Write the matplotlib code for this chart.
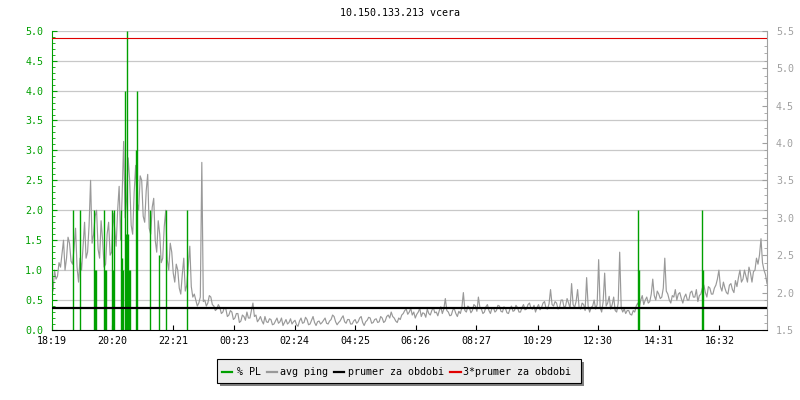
import numpy as np
import matplotlib
matplotlib.use("Agg")
import matplotlib.pyplot as plt
from matplotlib.lines import Line2D
from matplotlib.patches import Rectangle
from matplotlib.ticker import MultipleLocator, FormatStrFormatter

plt.rcParams['font.family'] = ['DejaVu Sans Mono']
plt.rcParams['font.size'] = 7.2

# ---------------- data ----------------
title = "10.150.133.213 vcera"
tick_minutes = [0, 121, 242, 364, 485, 606, 727, 848, 970, 1091, 1212, 1333]
tick_labels = ["18:19", "20:20", "22:21", "00:23", "02:24", "04:25",
               "06:26", "08:27", "10:29", "12:30", "14:31", "16:32"]
x_end = 1428          # minutes shown after 18:19
sample_step = 3       # minutes between ping samples

# average ping [ms] (right axis), one value every 3 minutes from 18:19
ping_ms = [
    2.14, 2.02, 2.30, 2.18, 2.22, 2.40, 2.34, 2.52, 2.70, 2.30, 2.46, 2.74, 2.66, 2.42, 2.38, 2.60, 2.86, 2.34, 2.14, 2.46,
    2.30, 2.62, 2.94, 2.46, 2.54, 2.90, 3.50, 2.66, 2.78, 3.02, 3.10, 2.58, 2.46, 2.96, 2.70, 2.34, 2.38, 2.78, 2.94, 2.50,
    2.54, 3.06, 2.86, 2.62, 3.10, 3.42, 2.70, 3.30, 4.02, 3.00, 3.26, 3.80, 3.50, 2.90, 2.78, 3.34, 3.70, 3.20, 3.10, 3.56,
    3.50, 3.02, 2.94, 3.36, 3.58, 2.86, 2.78, 3.14, 3.26, 2.70, 2.54, 2.96, 2.78, 2.40, 2.46, 2.88, 3.10, 2.44, 2.30, 2.66,
    2.54, 2.26, 2.14, 2.38, 2.30, 2.06, 1.98, 2.24, 2.46, 2.02, 2.10, 2.36, 2.62, 2.08, 1.94, 1.98, 1.90, 1.82, 1.86, 1.94,
    3.74, 1.88, 1.90, 1.82, 1.86, 1.96, 1.94, 1.84, 1.82, 1.76, 1.78, 1.84, 1.80, 1.72, 1.74, 1.80, 1.78, 1.68, 1.70, 1.76,
    1.74, 1.64, 1.66, 1.72, 1.72, 1.60, 1.62, 1.70, 1.68, 1.63, 1.74, 1.66, 1.66, 1.76, 1.86, 1.68, 1.70, 1.61, 1.64, 1.68,
    1.62, 1.58, 1.68, 1.61, 1.60, 1.65, 1.64, 1.57, 1.58, 1.62, 1.66, 1.59, 1.61, 1.66, 1.56, 1.60, 1.64, 1.58, 1.60, 1.65,
    1.58, 1.61, 1.63, 1.57, 1.55, 1.62, 1.66, 1.59, 1.60, 1.67, 1.64, 1.57, 1.58, 1.63, 1.68, 1.60, 1.56, 1.61, 1.62, 1.58,
    1.60, 1.63, 1.66, 1.59, 1.58, 1.62, 1.64, 1.70, 1.68, 1.61, 1.57, 1.60, 1.62, 1.66, 1.69, 1.61, 1.59, 1.64, 1.64, 1.58,
    1.58, 1.62, 1.64, 1.59, 1.61, 1.66, 1.68, 1.60, 1.56, 1.61, 1.63, 1.67, 1.66, 1.59, 1.60, 1.64, 1.65, 1.60, 1.61, 1.68,
    1.66, 1.60, 1.62, 1.68, 1.70, 1.66, 1.74, 1.68, 1.66, 1.62, 1.60, 1.66, 1.64, 1.70, 1.72, 1.76, 1.78, 1.71, 1.74, 1.79,
    1.70, 1.74, 1.66, 1.71, 1.74, 1.79, 1.68, 1.73, 1.72, 1.67, 1.78, 1.72, 1.70, 1.76, 1.80, 1.73, 1.74, 1.69, 1.76, 1.81,
    1.72, 1.78, 1.92, 1.76, 1.74, 1.69, 1.70, 1.77, 1.78, 1.72, 1.68, 1.75, 1.72, 1.80, 2.00, 1.76, 1.74, 1.82, 1.80, 1.73,
    1.76, 1.84, 1.82, 1.75, 1.94, 1.80, 1.78, 1.72, 1.74, 1.81, 1.84, 1.76, 1.72, 1.79, 1.80, 1.74, 1.76, 1.83, 1.82, 1.75,
    1.74, 1.81, 1.79, 1.73, 1.72, 1.78, 1.82, 1.75, 1.76, 1.83, 1.80, 1.74, 1.74, 1.80, 1.84, 1.77, 1.78, 1.84, 1.86, 1.79,
    1.78, 1.83, 1.74, 1.80, 1.84, 1.77, 1.80, 1.86, 1.88, 1.79, 1.78, 1.85, 2.04, 1.84, 1.82, 1.88, 1.86, 1.78, 1.80, 1.90,
    1.90, 1.80, 1.82, 1.92, 1.86, 1.79, 2.12, 1.84, 1.80, 1.88, 2.04, 1.80, 1.78, 1.86, 1.84, 1.76, 2.20, 1.82, 1.74, 1.80,
    1.82, 1.90, 1.78, 1.84, 2.44, 1.80, 1.74, 1.88, 2.26, 1.82, 1.86, 1.95, 1.78, 1.84, 1.94, 1.76, 1.74, 1.86, 2.54, 1.80,
    1.74, 1.78, 1.72, 1.76, 1.76, 1.71, 1.70, 1.76, 1.74, 1.82, 1.86, 1.80, 1.90, 1.96, 1.84, 1.90, 1.94, 1.86, 1.88, 1.98,
    2.18, 1.96, 1.90, 2.02, 1.98, 1.92, 1.94, 2.06, 2.46, 2.02, 1.98, 1.90, 1.86, 1.96, 1.94, 2.04, 1.90, 1.98, 2.00, 1.92,
    1.86, 1.94, 1.98, 1.90, 1.90, 2.00, 2.02, 1.94, 1.94, 2.04, 1.88, 1.96, 1.98, 2.06, 2.10, 2.00, 1.94, 2.08, 2.06, 1.98,
    1.98, 2.06, 2.10, 2.18, 2.30, 2.08, 2.02, 2.14, 2.06, 2.00, 1.98, 2.10, 2.12, 2.04, 2.00, 2.16, 2.08, 2.20, 2.30, 2.14,
    2.18, 2.30, 2.22, 2.14, 2.34, 2.26, 2.14, 2.28, 2.30, 2.46, 2.38, 2.50, 2.72, 2.40, 2.30, 2.24, 2.12,
]

# packet loss [%] (left axis)
pl_minutes = [43, 57, 85, 87, 89, 104, 106, 108, 121, 123, 125, 138, 140,
              143, 147, 149, 151, 153, 155, 157, 169, 171, 197, 214, 228,
              270, 1170, 1172, 1298, 1300]
pl_values = [2.0, 2.0, 2.0, 1.0, 1.0, 2.0, 1.0, 1.0, 2.0, 1.0, 2.0, 2.0, 1.2,
             1.0, 4.0, 1.6, 5.0, 1.6, 1.0, 1.0, 3.0, 4.0, 2.0, 1.25, 2.0,
             2.0, 2.0, 1.0, 2.0, 1.0]

ping_mean = 1.8       # "prumer za obdobi" [ms]
legend_labels = ["% PL", "avg ping", "prumer za obdobi", "3*prumer za obdobi"]

# ---------------- style ----------------
GREEN = "#00a000"
GRAY = "#999999"
AXGRAY = "#a0a0a0"
GRID = "#c8c8c8"
RED = "#e00000"
BLACK = "#000000"

W, H = 800, 400
fig = plt.figure(figsize=(8, 4), dpi=100)
left_px, right_px, top_px, bot_px = 51.5, 767, 30.7, 330
rect = [left_px / W, (H - bot_px) / H, (right_px - left_px) / W, (bot_px - top_px) / H]

ping_minutes = np.arange(len(ping_ms)) * sample_step

# grid layer
axg = fig.add_axes(rect, zorder=0)
axg.set_xlim(0, x_end)
axg.set_ylim(0, 5)
for v in np.arange(0.5, 5.01, 0.5):
    axg.axhline(v, color=GRID, lw=0.9)
axg.axis('off')

# ping layer (right axis)
ax2 = fig.add_axes(rect, zorder=1, sharex=axg)
ax2.patch.set_visible(False)
ax2.plot(ping_minutes, ping_ms, color=GRAY, lw=0.85)
ax2.set_ylim(1.5, 5.5)
ax2.yaxis.tick_right()
ax2.yaxis.set_major_locator(MultipleLocator(0.5))
ax2.yaxis.set_minor_locator(MultipleLocator(0.1))
ax2.yaxis.set_major_formatter(FormatStrFormatter('%.1f'))
ax2.tick_params(axis='y', which='major', direction='in', length=3.5, color=AXGRAY,
                labelcolor=AXGRAY, pad=6.5, right=True, left=False)
ax2.tick_params(axis='y', which='minor', direction='in', length=2, color=AXGRAY,
                right=True, left=False)
ax2.tick_params(axis='x', bottom=False, labelbottom=False)
for s in ['top', 'left', 'bottom']:
    ax2.spines[s].set_visible(False)
ax2.spines['right'].set_color(AXGRAY)
ax2.spines['right'].set_linewidth(0.8)

# packet loss layer (left axis)
ax = fig.add_axes(rect, zorder=2, sharex=axg)
ax.patch.set_visible(False)
ax.vlines(pl_minutes, 0, pl_values, color=GREEN, lw=1.0)
ax.set_ylim(0, 5)
ax.set_xlim(0, x_end)
ax.yaxis.set_major_locator(MultipleLocator(0.5))
ax.yaxis.set_minor_locator(MultipleLocator(0.1))
ax.yaxis.set_major_formatter(FormatStrFormatter('%.1f'))
ax.tick_params(axis='y', which='major', direction='in', length=3.5, color=GREEN,
               labelcolor=GREEN, pad=6)
ax.tick_params(axis='y', which='minor', direction='in', length=2, color=GREEN)
ax.set_xticks(tick_minutes)
ax.set_xticklabels(tick_labels)
ax.tick_params(axis='x', which='major', direction='in', length=3.5, color=BLACK,
               labelcolor=BLACK, pad=4)
for s in ['top', 'right']:
    ax.spines[s].set_visible(False)
ax.spines['left'].set_color(GREEN)
ax.spines['left'].set_linewidth(0.8)
ax.spines['bottom'].set_color(BLACK)
ax.spines['bottom'].set_linewidth(0.8)

# mean lines layer (ping scale)
ax3 = fig.add_axes(rect, zorder=3, sharex=axg)
ax3.set_ylim(1.5, 5.5)
ax3.axis('off')
ax3.axhline(ping_mean, color=BLACK, lw=1.6)
ax3.axhline(3 * ping_mean, color=RED, lw=0.8)

# title
fig.text(0.5, 1 - 13 / H, title, ha='center', va='center', color=BLACK)

# legend (drawn in figure pixels)
box_x0, box_x1, box_y0, box_y1 = 217.3, 581, 359, 383.3
shadow = Rectangle(((box_x0 + 2.5) / W, (H - box_y1 - 3) / H),
                   (box_x1 - box_x0) / W, (box_y1 - box_y0) / H,
                   transform=fig.transFigure, facecolor="#808080", edgecolor='none', zorder=5)
box = Rectangle((box_x0 / W, (H - box_y1) / H),
                (box_x1 - box_x0) / W, (box_y1 - box_y0) / H,
                transform=fig.transFigure, facecolor="#ececec", edgecolor=BLACK,
                lw=0.8, zorder=6)
fig.patches.extend([shadow, box])
leg_colors = [GREEN, GRAY, BLACK, RED]
sw_x = [(221.7, 232.3), (266.7, 276.7), (334, 344), (450, 460.7)]
txt_x = [236.7, 280, 348, 463.3]
yc = (H - 371.7) / H
for c, (a, b), tx, lab in zip(leg_colors, sw_x, txt_x, legend_labels):
    fig.lines.append(Line2D([a / W, b / W], [yc, yc], transform=fig.transFigure,
                            color=c, lw=1.6, zorder=7))
    fig.text(tx / W, yc, lab, ha='left', va='center', color=BLACK, zorder=7)

fig.savefig("out.png", dpi=100)
